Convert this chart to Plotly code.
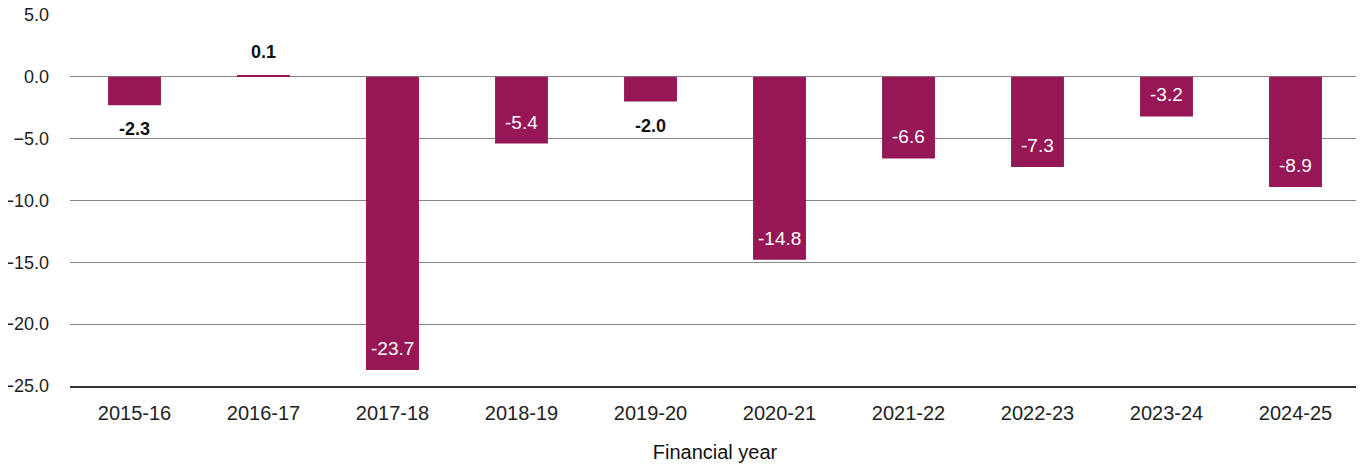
import plotly.graph_objects as go

years = ["2015-16", "2016-17", "2017-18", "2018-19", "2019-20",
         "2020-21", "2021-22", "2022-23", "2023-24", "2024-25"]
values = [-2.3, 0.1, -23.7, -5.4, -2.0, -14.8, -6.6, -7.3, -3.2, -8.9]
y_ticks = [5, 0, -5, -10, -15, -20, -25]

BAR = "#961656"
FONT = "Liberation Sans, Arial, Helvetica, sans-serif"

fig = go.Figure(go.Bar(
    x=years, y=values, marker=dict(color=BAR, line=dict(width=0)),
    width=0.41, cliponaxis=False, hoverinfo="skip",
))

for yr, v in zip(years, values):
    label = f"{v:.1f}"
    if abs(v) < 2.5:
        fig.add_annotation(
            x=yr, y=v, text=f"<b>{label}</b>", showarrow=False,
            yanchor="top" if v < 0 else "bottom",
            yshift=-12 if v < 0 else 12,
            font=dict(color="#111111", size=18, family=FONT),
        )
    else:
        fig.add_annotation(
            x=yr, y=v, text=label, showarrow=False,
            yanchor="bottom", yshift=9,
            font=dict(color="white", size=19, family=FONT),
        )

fig.update_layout(
    width=1356, height=458,
    margin=dict(l=62, r=4, t=7, b=80),
    plot_bgcolor="white", paper_bgcolor="white",
    showlegend=False,
    font=dict(family=FONT, color="#222222", size=19),
    xaxis=dict(
        title=dict(text="Financial year", font=dict(size=20, color="#111111"), standoff=22),
        showline=True, linecolor="#333333", linewidth=1.5,
        tickfont=dict(size=20, color="#222222"),
        showgrid=False, ticks="", automargin=False,
        ticklabelstandoff=8, ticklabeloverflow="allow",
    ),
    yaxis=dict(
        range=[-25, 5], tickvals=y_ticks, tickformat=".1f",
        showgrid=True, gridcolor="#858585", gridwidth=1,
        zeroline=False, showline=False, ticks="",
        ticklabelstandoff=20, automargin=False,
        ticklabeloverflow="allow",
        tickfont=dict(size=18, color="#222222"),
    ),
)

fig.write_html("out.html")
